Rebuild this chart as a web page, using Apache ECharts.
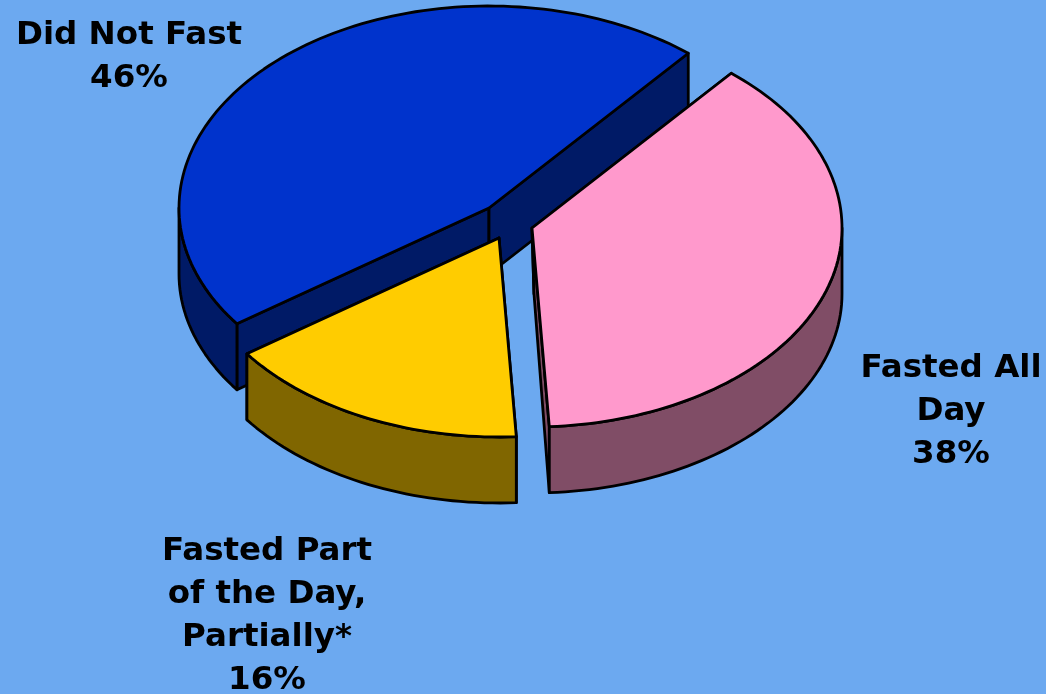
<!DOCTYPE html>
<html><head><meta charset="utf-8">
<style>html,body{margin:0;padding:0;background:#6CA9F0}#c{width:1046px;height:694px}</style>
<script src="https://cdn.jsdelivr.net/npm/echarts@6/dist/echarts.min.js"></script>
</head><body><div id="c"></div>
<script>
const categories = ['Did Not Fast', 'Fasted Part of the Day, Partially*', 'Fasted All Day'];
const values = [46, 16, 38];
const labelLines = [
  ['Did Not Fast', '46%'],
  ['Fasted Part', 'of the Day,', 'Partially*', '16%'],
  ['Fasted All', 'Day', '38%']
];
const topColors = ['#0033CC', '#FFCC00', '#FF99CC'];
const wallColors = ['#001A66', '#806600', '#804D66'];

// drawing layout (pixels)
const RX = 310, RY_BACK = 202, RY_FRONT = 199, DEPTH = 66, START_DEG = 50;
const apexes = [[489, 208], [499, 238], [532, 228]];
const bottomApexShift = [0, 0, 2];
const labelCenters = [[129, 36], [267, 552], [951, 369]];
const LINE_H = 43;
const total = values.reduce((a, b) => a + b, 0);
// slices run clockwise from START_DEG: pink -> yellow -> blue
const sweepOrder = [2, 1, 0];
const angles = {};
let cur = START_DEG;
sweepOrder.forEach(i => { const sw = values[i] / total * 360; angles[i] = [cur, cur - sw]; cur -= sw; });

function pt(c, deg, dy) {
  const r = deg * Math.PI / 180, s = Math.sin(r);
  return [c[0] + RX * Math.cos(r), c[1] - (s > 0 ? RY_BACK : RY_FRONT) * s + (dy || 0)];
}
function arc(c, a0, a1, dy) {
  const out = [], n = Math.max(2, Math.ceil(Math.abs(a1 - a0) / 1.5));
  for (let k = 0; k <= n; k++) out.push(pt(c, a0 + (a1 - a0) * k / n, dy));
  return out;
}
const line = { stroke: '#000', lineWidth: 2.8, lineJoin: 'round' };

function renderItem(params, api) {
  const i = params.dataIndex;
  const c = apexes[i], [a0, a1] = angles[i];
  const kids = [];
  const wall = pts => kids.push({ type: 'polygon', shape: { points: pts }, style: Object.assign({ fill: wallColors[i] }, line) });
  const bot = [c[0] + bottomApexShift[i], c[1] + DEPTH];
  [a0, a1].forEach(a => {
    const p = pt(c, a);
    wall([c, p, [p[0], p[1] + DEPTH], bot]);
  });
  // outer rim: visible where the rim faces the viewer (lower half)
  const norm = a => ((a % 360) + 360) % 360;
  for (let a = a0; a > a1; ) {
    const segEnd = Math.max(a1, Math.ceil(a / 180 - 1) * 180);
    const mid = norm((a + segEnd) / 2);
    if (mid > 180) {
      const upper = arc(c, a, segEnd, 0), lower = arc(c, segEnd, a, DEPTH);
      wall(upper.concat(lower));
    }
    a = segEnd;
  }
  // top face
  kids.push({ type: 'polygon', shape: { points: [c].concat(arc(c, a0, a1, 0)) },
    style: Object.assign({ fill: topColors[i] }, line) });
  // label
  const lc = labelCenters[i];
  labelLines[i].forEach((t, k) => kids.push({
    type: 'text', z2: 10,
    style: { text: t, x: lc[0], y: lc[1] + k * LINE_H, align: 'center', verticalAlign: 'middle',
      font: 'bold 32.5px "DejaVu Sans"', fill: '#000' }
  }));
  return { type: 'group', children: kids };
}

const chart = echarts.init(document.getElementById('c'), null, { renderer: 'canvas' });
chart.setOption({
  animation: false,
  backgroundColor: '#6CA9F0',
  series: [{
    type: 'custom',
    coordinateSystem: 'none',
    renderItem,
    data: categories.map((n, i) => ({ name: n, value: [values[i]] }))
  }]
});
</script></body></html>
